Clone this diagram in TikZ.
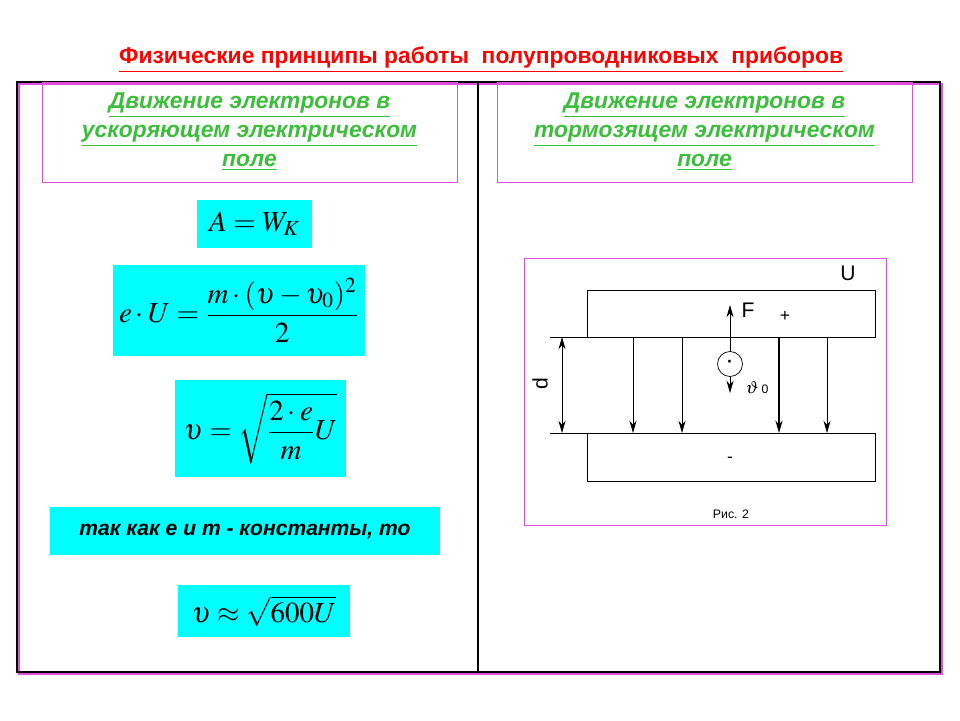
\documentclass[tikz,border=0pt]{standalone}
\usepackage{amsmath}
\usepackage{mathptmx}
\usepackage{fontspec}
\setmainfont{Liberation Sans}
\usetikzlibrary{arrows.meta}
\definecolor{hdrgreen}{RGB}{60,190,60}
\definecolor{frmpink}{RGB}{220,80,220}
\definecolor{eqcyan}{RGB}{0,255,255}
\tikzset{
  hdr/.style={draw=frmpink, align=center, text=hdrgreen, font=\bfseries\itshape\fontsize{13}{16.5}\selectfont},
  eqbox/.style={fill=eqcyan, font=\fontsize{16.5}{19}\selectfont},
  fieldline/.style={-{Stealth[length=7pt,width=4pt]}}
}
\begin{document}
\begin{tikzpicture}[x=0.02cm,y=-0.02cm]
  \useasboundingbox (0,0) rectangle (960,720);
  % title
  \node (title) at (481,60) {\color{red}\bfseries\fontsize{13}{15}\selectfont\underline{Физические принципы работы\ \ полупроводниковых\ \ приборов}};
  % frame
  \draw[frmpink, line width=1pt] (19,84) rectangle (942,674);
  \draw[line width=1pt] (17,82) rectangle (940,672);
  \draw[line width=1pt] (478,82) -- (478,672);
  % headers
  \node[hdr, minimum width=415*0.02cm, minimum height=100*0.02cm] (hl) at (249.5,132) {\underline{Движение электронов в}\\\underline{ускоряющем электрическом}\\\underline{поле}};
  \node[hdr, minimum width=415*0.02cm, minimum height=100*0.02cm] (hr) at (704.5,132) {\underline{Движение электронов в}\\\underline{тормозящем электрическом}\\\underline{поле}};
  % formulas
  \node[eqbox, minimum width=115*0.02cm, minimum height=48*0.02cm] (eqA) at (254.5,224) {$A=W_K$};
  \node[eqbox, minimum width=248*0.02cm, minimum height=91*0.02cm] (eqU) at (239,310.5) {$e\cdot U=\dfrac{m\cdot(\upsilon-\upsilon_0)^2}{2}$};
  \node[eqbox, minimum width=171*0.02cm, minimum height=97*0.02cm] (eqV) at (260.5,428.5) {$\upsilon=\sqrt{\dfrac{2\cdot e}{m}U}$};
  \node[eqbox, minimum width=390*0.02cm, minimum height=48*0.02cm, font=\bfseries\itshape\fontsize{12}{14}\selectfont] (note) at (245,531) {так как e и m - константы, то};
  \node[eqbox, minimum width=172*0.02cm, minimum height=52*0.02cm] (eqN) at (264,611) {$\upsilon\approx\sqrt{600U}$};
  % figure
  \draw[frmpink] (524,258) rectangle (886,525);
  \draw (587,290) rectangle (875,337);
  \draw (587,433) rectangle (875,481);
  \draw (550,337) -- (587,337);
  \draw (550,433) -- (587,433);
  \draw[{Stealth[length=7pt,width=4pt]}-{Stealth[length=7pt,width=4pt]}] (562,337) -- (562,433);
  \foreach \x in {633,682,827}
    \draw[fieldline] (\x,337) -- (\x,433);
  \draw[fieldline, line width=1.2pt] (779,337) -- (779,433);
  \node[draw, circle, minimum size=25*0.02cm, inner sep=0pt] (el) at (730,364) {\textbf{·}};
  \draw[fieldline] (el.north) -- (730,305);
  \draw[fieldline] (el.south) -- (730,393);
  \node (F) at (748,310) {\fontsize{12}{14}\selectfont F};
  \node (plus) at (785,316) {+};
  \node (minus) at (730,460) {-};
  \node (U) at (848,273) {\fontsize{12}{14}\selectfont U};
  \node[rotate=90] (d) at (540,384) {\fontsize{12}{14}\selectfont d};
  \node (v0) at (757,388) {$\vartheta$\,{\scriptsize 0}};
  \node (cap) at (731,514) {\fontsize{7}{9}\selectfont Рис. 2};
\end{tikzpicture}
\end{document}
